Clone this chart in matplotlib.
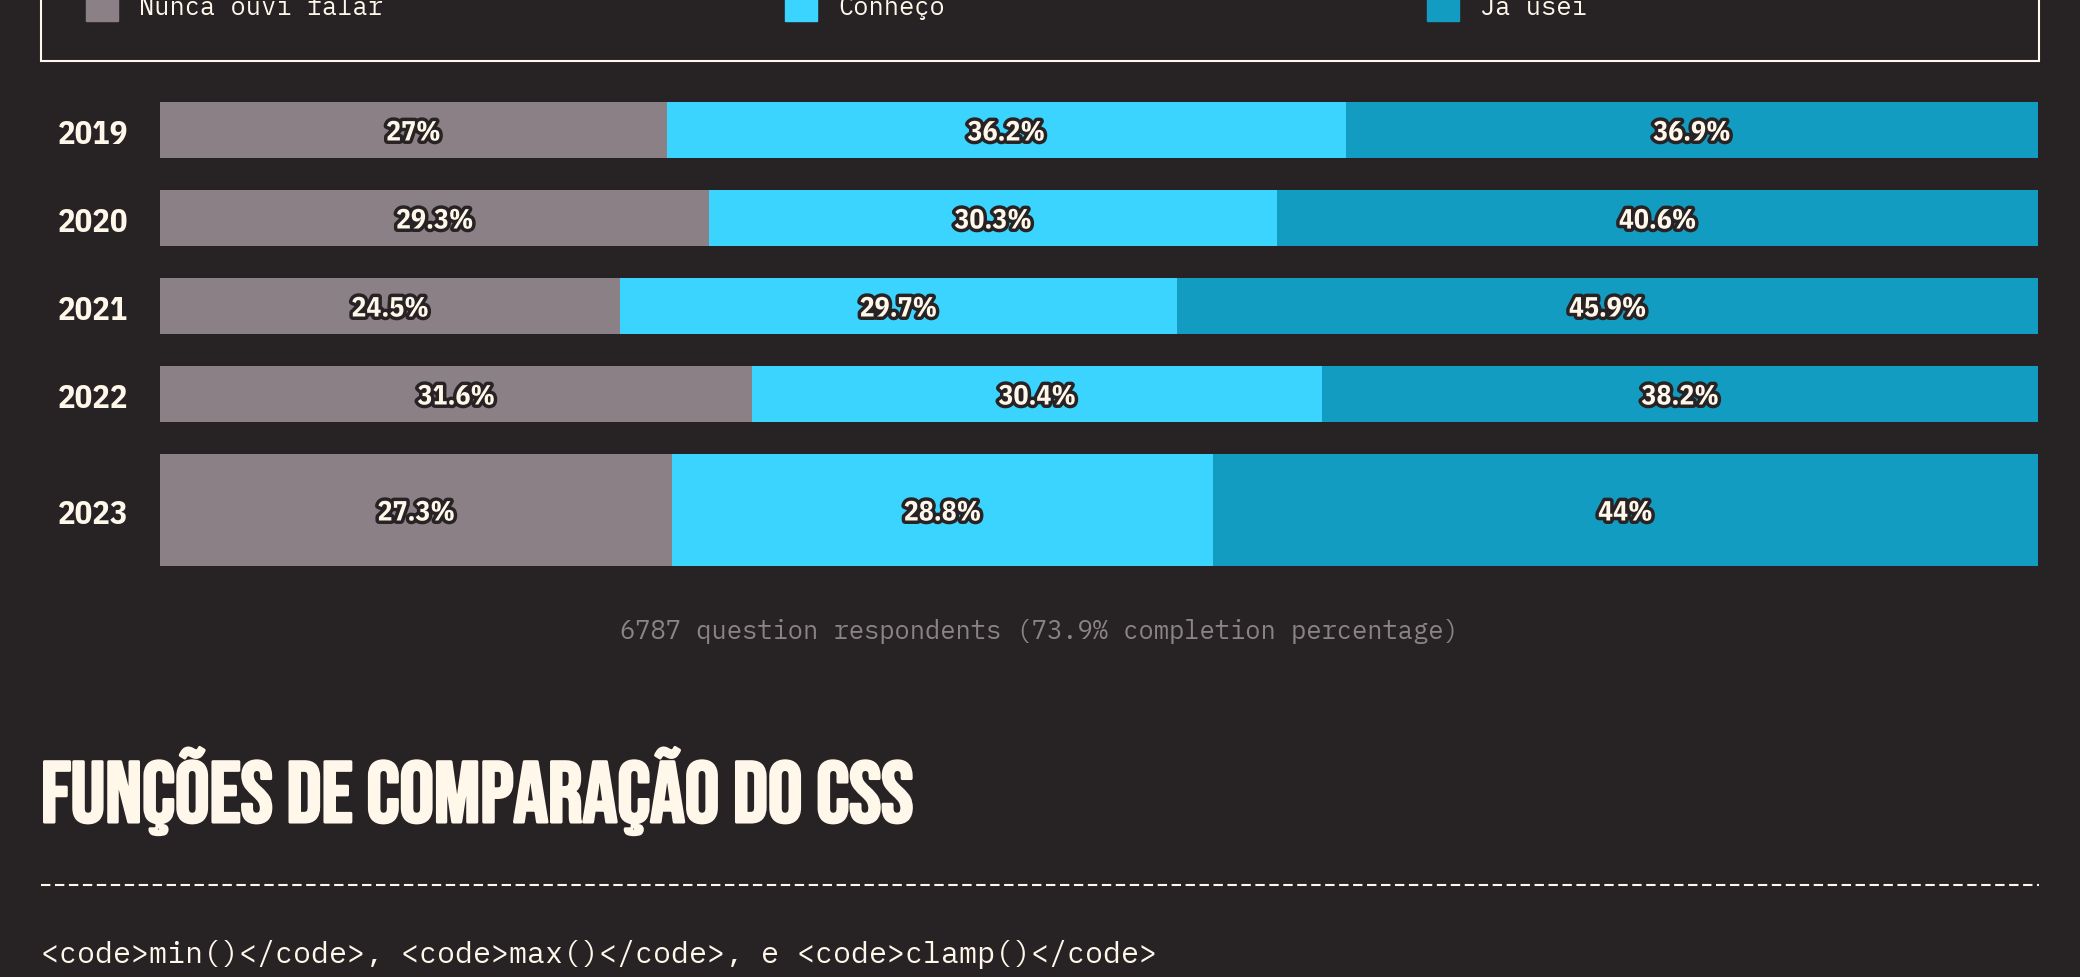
import numpy as np
import matplotlib.pyplot as plt
import matplotlib.patheffects as pe
from matplotlib.patches import Rectangle

# data
years = ['2019', '2020', '2021', '2022', '2023']
series = ['Nunca ouvi falar', 'Conheço', 'Já usei']
never_heard = [27, 29.3, 24.5, 31.6, 27.3]
know_it = [36.2, 30.3, 29.7, 30.4, 28.8]
used_it = [36.9, 40.6, 45.9, 38.2, 44]
footer = '6787 question respondents (73.9% completion percentage)'
title = 'FUNÇÕES DE COMPARAÇÃO DO CSS'
subtitle = '<code>min()</code>, <code>max()</code>, e <code>clamp()</code>'

BG = '#272325'
CREAM = '#fff7ea'
colors = ['#8b8085', '#3ad4ff', '#139cc1']
MONO = ['IBM Plex Mono', 'Liberation Mono', 'DejaVu Sans Mono']
SANS = ['IBM Plex Sans Condensed', 'Roboto', 'DejaVu Sans']
HEAD = ['Bebas Neue', 'Oswald', 'DejaVu Sans']

W, H = 2080, 978
fig = plt.figure(figsize=(W / 100, H / 100), dpi=100, facecolor=BG)

# overlay in pixel coordinates for the page decorations
ov = fig.add_axes([0, 0, 1, 1], zorder=0)
ov.set_xlim(0, W)
ov.set_ylim(H, 0)
ov.axis('off')
ov.patch.set_alpha(0)

# legend box (top is cut off by the screenshot)
ov.add_patch(Rectangle((41, -100), 1998, 162, fill=False, ec=CREAM, lw=1.5, clip_on=False))
legend_x = [86, 785, 1427]
for lx, name, c in zip(legend_x, series, colors):
    ov.add_patch(Rectangle((lx, -10), 32, 32, color=c, clip_on=False))
    ov.text(lx + 53, 15, name, color=CREAM, fontsize=18.4, family=MONO, va='baseline')

# bars
bx0, bx1, by0, by1 = 160, 2038, 103, 567
ax = fig.add_axes([bx0 / W, 1 - by1 / H, (bx1 - bx0) / W, (by1 - by0) / H], zorder=1)
ax.set_facecolor('none')

row_h = np.array([1, 1, 1, 1, 2], dtype=float)
gap = 32 / 56
tops = np.concatenate([[0], np.cumsum(row_h + gap)[:-1]])
centers = tops + row_h / 2

vals = np.array([never_heard, know_it, used_it])
frac = vals / vals.sum(axis=0)
left = np.zeros(len(years))
for i in range(len(series)):
    ax.barh(centers, frac[i], left=left, height=row_h, color=colors[i], linewidth=0)
    for j in range(len(years)):
        ax.text(left[j] + frac[i][j] / 2, centers[j], f'{vals[i][j]:g}%',
                ha='center', va='center_baseline', color=CREAM, fontsize=20,
                family=SANS, fontweight='bold',
                path_effects=[pe.withStroke(linewidth=5, foreground=BG)])
    left += frac[i]

ax.set_xlim(0, 1)
ax.set_ylim(tops[-1] + row_h[-1], 0)
ax.set_yticks(centers, years)
ax.tick_params(axis='y', length=0, pad=23, labelsize=23.5, labelcolor=CREAM)
for t in ax.get_yticklabels():
    t.set_fontweight('bold')
    t.set_family(SANS)
ax.set_xticks([])
for s in ax.spines.values():
    s.set_visible(False)

# footer and next section
ov.text(1039, 631, footer, color='#8a8486', fontsize=18.4, family=MONO,
        ha='center', va='center')
ov.text(41, 823, title, color=CREAM, fontsize=62, family=HEAD, va='baseline',
        path_effects=[pe.withStroke(linewidth=2.2, foreground=CREAM)])
ov.plot([41, 2039], [886, 886], color=CREAM, lw=1.5, dashes=(4.5, 2.2))
ov.text(41, 963, subtitle, color=CREAM, fontsize=21.6, family=MONO, va='baseline')

fig.savefig('out.png', dpi=100, facecolor=BG)
